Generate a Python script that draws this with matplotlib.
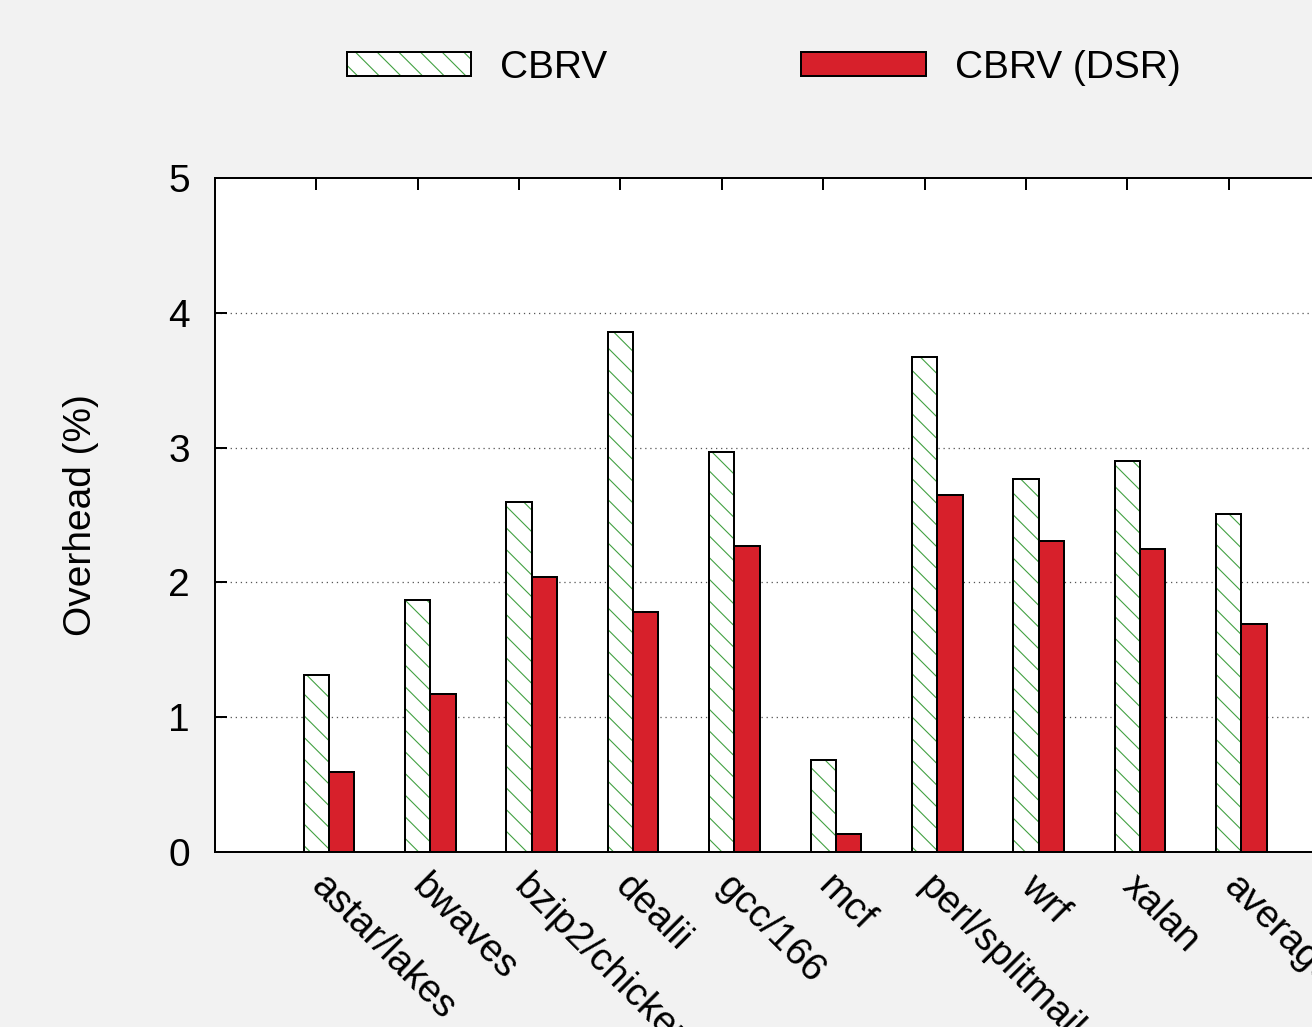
import matplotlib
matplotlib.use("Agg")
from matplotlib import pyplot as plt
from matplotlib.legend_handler import HandlerTuple
import numpy as np

plt.rcParams['font.family'] = ['Liberation Sans', 'DejaVu Sans']
plt.rcParams['hatch.linewidth'] = 0.6

# 数据
benchmarks = ["astar/lakes", "bwaves", "bzip2/chicken", "dealii", "gcc/166",
              "mcf", "perl/splitmail", "wrf", "xalan", "average"]
cbrv = [1.31, 1.87, 2.60, 3.86, 2.97, 0.68, 3.67, 2.77, 2.90, 2.51]
cbrv_dsr = [0.59, 1.17, 2.04, 1.78, 2.27, 0.13, 2.65, 2.31, 2.25, 1.69]

red = "#d7202b"
green = "#3f9f3f"
width = 0.25
fs = 21.5

fig = plt.figure(figsize=(1312 / 130, 1027 / 130), dpi=130, facecolor="#f2f2f2")
ax = fig.add_axes([0.1639, 0.1704, 0.8498, 0.6563])
ax.set_facecolor("white")

x = np.arange(len(benchmarks))
# 斜线填充用绿色，外框用黑色：分两层画
ax.bar(x, cbrv, width, color="white", edgecolor=green, hatch="\\\\", linewidth=0, zorder=2)
ax.bar(x, cbrv, width, color="none", edgecolor="black", linewidth=1.1, zorder=3)
ax.bar(x + width, cbrv_dsr, width, color=red, edgecolor="black", linewidth=1.1, zorder=3)

ax.set_xlim(-1, 10)
ax.set_ylim(0, 5)
ax.set_yticks(range(0, 6))
ax.set_xticks(x)
ax.set_xticklabels(benchmarks, rotation=-45, ha="left", va="center",
                   rotation_mode="anchor", fontsize=fs)
ax.tick_params(axis="both", direction="in", length=6.6, width=1.1, top=True,
               labelsize=fs)
ax.tick_params(axis="y", pad=14)
ax.tick_params(axis="x", pad=16)
for s in ax.spines.values():
    s.set_linewidth(1.1)

# 网格
for v in range(1, 5):
    ax.axhline(v, color="#555555", linestyle=(0, (1, 3)), linewidth=0.7, zorder=1)

ax.set_ylabel("Overhead (%)", fontsize=fs, labelpad=38)

# 图例
h1 = plt.Rectangle((0, 0), 1, 1, facecolor="white", edgecolor=green, hatch="\\\\", linewidth=0)
h1b = plt.Rectangle((0, 0), 1, 1, facecolor="none", edgecolor="black", linewidth=1.1)
h2 = plt.Rectangle((0, 0), 1, 1, facecolor=red, edgecolor="black", linewidth=1.1)
fig.legend([(h1, h1b), h2], ["CBRV", "CBRV (DSR)"], ncol=2, loc="center",
           bbox_to_anchor=(0.582, 0.934), frameon=False, fontsize=fs,
           handlelength=3.2, handleheight=0.6, handletextpad=0.75,
           columnspacing=5.0, handler_map={tuple: HandlerTuple(ndivide=1, pad=0)})

plt.savefig("out.png", dpi=130, facecolor=fig.get_facecolor())
